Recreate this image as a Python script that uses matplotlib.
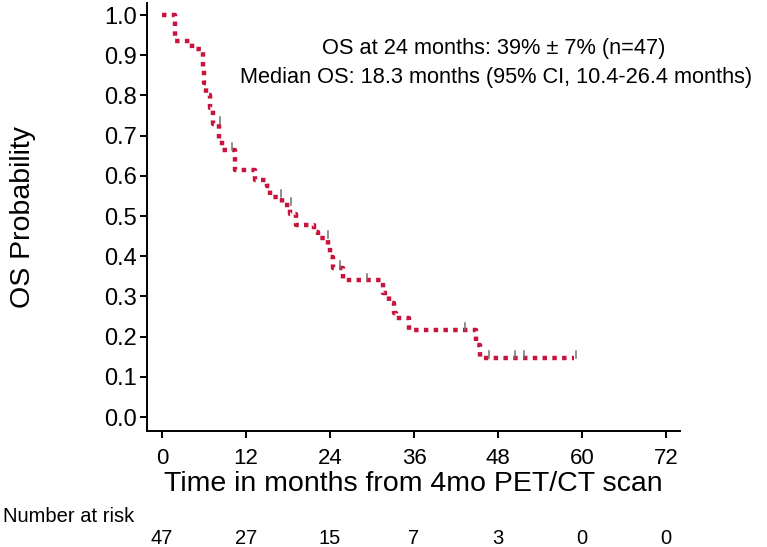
import matplotlib
matplotlib.use("Agg")
import matplotlib.pyplot as plt
import matplotlib.transforms as mtransforms
import numpy as np

plt.rcParams['font.family'] = ['Liberation Sans', 'DejaVu Sans']

# ---- data ----
event_times = [0, 1.9, 4.3, 5.8, 6.0, 6.3, 6.9, 7.3, 8.1, 8.6, 10.4, 13.3, 15.0, 15.5,
               17.2, 18.3, 19.2, 21.7, 22.3, 23.7, 24.0, 24.5, 25.8, 31.6, 32.4, 33.1,
               33.5, 35.3, 44.8, 45.5]
survival = [1.0, 0.936, 0.915, 0.872, 0.83, 0.80, 0.77, 0.73, 0.69, 0.665, 0.614, 0.59,
            0.575, 0.547, 0.527, 0.505, 0.478, 0.46, 0.445, 0.423, 0.398, 0.37, 0.34,
            0.308, 0.284, 0.259, 0.246, 0.216, 0.18, 0.147]
last_followup = 58.8
censor_times = [8.0, 9.7, 16.7, 18.2, 23.4, 25.1, 29.0, 43.0, 46.4, 50.1, 51.4, 58.8]

x_ticks = [0, 12, 24, 36, 48, 60, 72]
y_ticks = [0.0, 0.1, 0.2, 0.3, 0.4, 0.5, 0.6, 0.7, 0.8, 0.9, 1.0]
at_risk = [47, 27, 15, 7, 3, 0, 0]

annot_line1 = "OS at 24 months: 39% \u00b1 7% (n=47)"
annot_line2 = "Median OS: 18.3 months (95% CI, 10.4-26.4 months)"

# ---- figure ----
W, H = 767, 547
fig = plt.figure(figsize=(W / 100, H / 100), dpi=100)
ax = fig.add_axes([147 / W, 1 - 431 / H, (680 - 147) / W, (431 - 3) / H])
ax.set_xlim(-2.14, 74.0)
ax.set_ylim(-0.0348, 1.030)

red = '#c8143c'
t_plot = list(event_times) + [last_followup]
s_plot = list(survival) + [survival[-1]]
ax.step(t_plot, s_plot, where='post', color=red, lw=3.2,
        linestyle=(0, (1, 1.2)), dash_capstyle='butt', zorder=3)

# censor marks
ev = np.array(event_times)
sv = np.array(survival)
c_levels = [sv[np.searchsorted(ev, c, side='right') - 1] for c in censor_times]
for c, lv in zip(censor_times, c_levels):
    ax.plot([c + 0.3, c + 0.3], [lv, lv + 0.017], color='#707070', lw=1.1, zorder=4)

for side in ['top', 'right']:
    ax.spines[side].set_visible(False)
for side in ['left', 'bottom']:
    ax.spines[side].set_linewidth(1.4)
    ax.spines[side].set_color('black')

ax.set_xticks(x_ticks)
ax.set_xticklabels([str(v) for v in x_ticks])
ax.set_yticks(y_ticks)
ax.set_yticklabels([f"{v:.1f}" for v in y_ticks])
ax.tick_params(axis='x', length=5, width=1.4, labelsize=16, pad=7)
ax.tick_params(axis='y', length=5, width=1.4, labelsize=17, pad=2)

ax.set_xlabel("Time in months from 4mo PET/CT scan", fontsize=20.5)
ax.xaxis.set_label_coords(0.5, -0.093)
ax.xaxis.label.set_va('top')
ax.set_ylabel("OS Probability", fontsize=20.5)
ax.yaxis.set_label_coords(-0.208, 0.5)

fig.text(494 / W, 1 - 54 / H, annot_line1, fontsize=15.7, ha='center', va='baseline')
fig.text(496 / W, 1 - 83 / H, annot_line2, fontsize=15.7, ha='center', va='baseline')

fig.text(3 / W, 1 - 522 / H, "Number at risk", fontsize=14.5, ha='left', va='baseline')
trans = mtransforms.blended_transform_factory(ax.transData, fig.transFigure)
for xt, n in zip(x_ticks, at_risk):
    ax.text(xt, 1 - 544 / H, str(n), transform=trans, fontsize=14.5,
            ha='center', va='baseline', clip_on=False)

fig.savefig("out.png", dpi=100)
